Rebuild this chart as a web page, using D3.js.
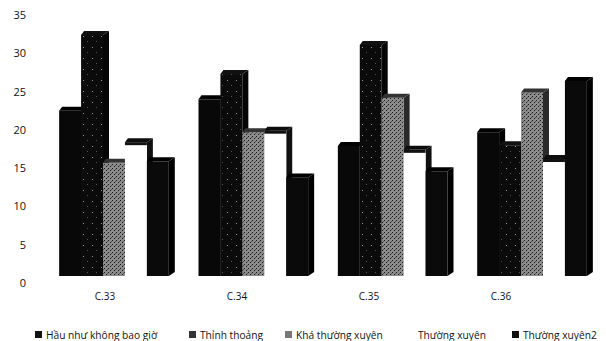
<!DOCTYPE html>
<html>
<head>
<meta charset="utf-8">
<script src="https://cdn.jsdelivr.net/npm/d3@7"></script>
<style>
  body { margin: 0; background: #fff; overflow: hidden; }
  text { font-family: "Open Sans", "Noto Sans", sans-serif; fill: #111; }
</style>
</head>
<body>
<svg id="chart" width="606" height="341"></svg>
<script>
const categories = ["C.33", "C.34", "C.35", "C.36"];
const seriesNames = ["Hầu như không bao giờ", "Thỉnh thoảng", "Khá thường xuyên", "Thường xuyên", "Thường xuyên2"];
const haunhu    = [22.1, 23.6, 17.5, 19.3];
const thinhthoang = [32.0, 26.9, 30.7, 17.6];
const khathuong = [15.3, 19.3, 23.8, 24.5];
const thuongxuyen = [18.0, 19.5, 17.0, 15.8];
const thuongxuyen2 = [15.5, 13.4, 14.2, 26.0];
const yTicks = [0, 5, 10, 15, 20, 25, 30, 35];

const allSeries = [haunhu, thinhthoang, khathuong, thuongxuyen, thuongxuyen2];

const svg = d3.select("#chart");
const defs = svg.append("defs");

// scan-like fills
const pDark = defs.append("pattern").attr("id", "pDark")
    .attr("width", 9).attr("height", 11).attr("patternUnits", "userSpaceOnUse");
pDark.append("rect").attr("width", 9).attr("height", 11).attr("fill", "#0b0b0b");
pDark.append("rect").attr("x", 2).attr("y", 3).attr("width", 1).attr("height", 1).attr("fill", "#999");
pDark.append("rect").attr("x", 6).attr("y", 8).attr("width", 1).attr("height", 1).attr("fill", "#555");

const pGray = defs.append("pattern").attr("id", "pGray")
    .attr("width", 4).attr("height", 4).attr("patternUnits", "userSpaceOnUse");
pGray.append("rect").attr("width", 4).attr("height", 4).attr("fill", "#8c8c8c");
pGray.append("rect").attr("x", 0).attr("y", 0).attr("width", 1).attr("height", 1).attr("fill", "#1a1a1a");
pGray.append("rect").attr("x", 2).attr("y", 2).attr("width", 1).attr("height", 1).attr("fill", "#1a1a1a");
pGray.append("rect").attr("x", 3).attr("y", 1).attr("width", 1).attr("height", 1).attr("fill", "#555");

const frontFill = ["#080808", "url(#pDark)", "url(#pGray)", "#ffffff", "#0a0a0a"];
const sideFill  = ["#000", "#050505", "#2a2a2a", "#111", "#000"];
const topFill   = ["#000", "#111", "#333", "#0d0d0d", "#000"];

// value axis (wall) and front floor
const y = d3.scaleLinear().domain([0, 35]).range([283, 15]);
const depthY = 7, depthX = 6, topH = 4;

// category labels on the front edge, bars set back (perspective)
const xFront = d3.scaleBand().domain(categories).range([39, 567]);
const xBack = d3.scaleBand().domain(categories).range([48, 604]).paddingInner(0.17).paddingOuter(0.08);
const xSeries = d3.scaleBand().domain(d3.range(seriesNames.length))
    .range([0, xBack.bandwidth() - depthX]);

// y axis labels
svg.append("g")
    .attr("transform", "translate(26,0)")
    .call(d3.axisLeft(y).tickValues(yTicks).tickSize(0).tickPadding(0))
    .call(g => g.select(".domain").remove())
    .selectAll("text")
    .style("font-size", "11px")
    .style("font-family", "'Open Sans', sans-serif");

// x axis labels
svg.append("g")
    .attr("transform", "translate(0,290)")
    .call(d3.axisBottom(xFront).tickSize(0).tickPadding(3))
    .call(g => g.select(".domain").remove())
    .selectAll("text")
    .style("font-size", "10px")
    .style("font-family", "'Open Sans', sans-serif");

// bars, drawn left to right so later bars hide the earlier side faces
categories.forEach((cat, ci) => {
    const g = svg.append("g");
    allSeries.forEach((vals, si) => {
        const x0 = xBack(cat) + xSeries(si);
        const w = xSeries.bandwidth();
        const base = y(0) - depthY;
        const yt = y(vals[ci]) - depthY;
        const yf = yt + topH;
        // side face
        g.append("path")
            .attr("d", `M${x0 + w},${yf} L${x0 + w + depthX},${yt} L${x0 + w + depthX},${base - topH} L${x0 + w},${base} Z`)
            .attr("fill", sideFill[si]);
        // front face
        g.append("rect")
            .attr("x", x0).attr("y", yf)
            .attr("width", w).attr("height", base - yf)
            .attr("fill", frontFill[si]);
        // top face
        g.append("path")
            .attr("d", `M${x0},${yf} L${x0 + 3},${yt} L${x0 + w + depthX},${yt} L${x0 + w},${yf} Z`)
            .attr("fill", topFill[si]);
        if (si === 3) {
            g.append("rect")
                .attr("x", x0).attr("y", yf)
                .attr("width", w).attr("height", 3)
                .attr("fill", "#111");
        }
    });
});

// legend
const legendX = [35, 189, 285, 410, 512];
const legend = svg.append("g").attr("transform", "translate(0,335)");
seriesNames.forEach((name, i) => {
    const item = legend.append("g").attr("transform", `translate(${legendX[i]},0)`);
    item.append("rect")
        .attr("x", 0).attr("y", -4)
        .attr("width", 7).attr("height", 7)
        .attr("fill", i === 3 ? "#fff" : (i === 2 ? "#777" : (i === 1 ? "#333" : "#111")));
    item.append("text")
        .attr("x", i === 3 ? 8 : 11).attr("y", 0)
        .attr("dy", "0.35em")
        .style("font-size", "10.2px")
        .text(name);
});
</script>
</body>
</html>
